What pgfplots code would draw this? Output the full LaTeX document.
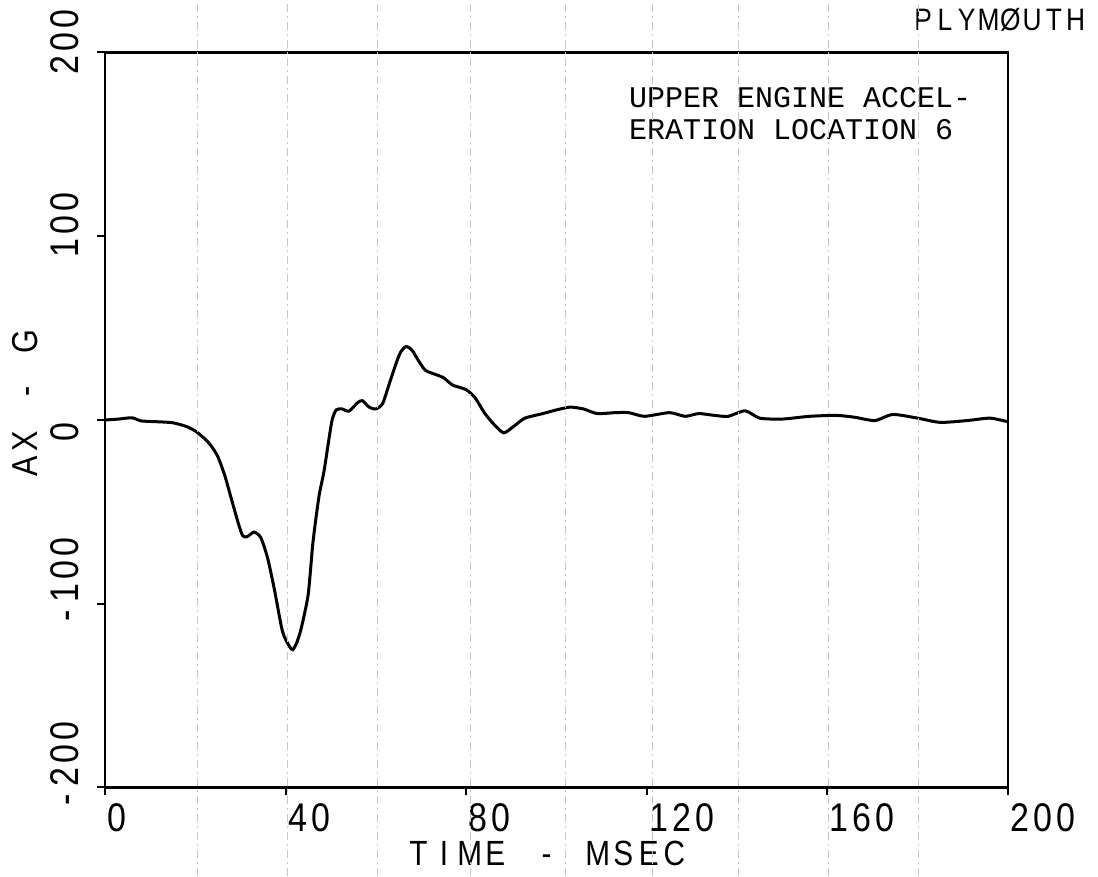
\documentclass[border=0pt]{standalone}
\usepackage{pgfplots}
\pgfplotsset{compat=1.18}
\usepackage{fontspec}
\setmainfont{Liberation Sans}
\newfontfamily\plotfont[FakeStretch=0.85]{Liberation Sans}
\newfontfamily\typewriter{Liberation Mono}
% plotter lettering: every character on the same pitch
\newlength\pltw
\def\plt#1#2{\setlength\pltw{#1}\pltloop#2\relax}
\def\pltloop#1{\ifx#1\relax\else\makebox[\pltw]{#1}\expandafter\pltloop\fi}

\begin{document}
\begin{tikzpicture}
\begin{axis}[
    scale only axis,
    width=451.5pt, height=367.5pt,
    xmin=0, xmax=200, ymin=-200, ymax=200,
    clip=false,
    axis line style={line width=1.2pt},
    tick pos=left, tick align=outside,
    major tick length=4pt,
    tick style={line width=1pt, black},
    xtick={0,40,80,120,160,200},
    xticklabels={\plt{11.5pt}{0},\plt{11.5pt}{40},\plt{11.5pt}{80},\plt{11.5pt}{120},\plt{11.5pt}{160},\plt{11.5pt}{200}},
    ytick={-200,-100,0,100,200},
    yticklabels={\plt{11.5pt}{-200},\plt{11.5pt}{-100},\plt{11.5pt}{0},\plt{11.5pt}{100},\plt{11.5pt}{200}},
    xticklabel style={font=\plotfont\fontsize{20}{20}\selectfont, anchor=north west, inner sep=0pt, yshift=-4pt},
    yticklabel style={font=\plotfont\fontsize{20}{20}\selectfont, rotate=90, anchor=south west, inner sep=0pt, xshift=-12pt, yshift=9pt},
    xlabel={\plt{12.8pt}{TIME~-~MSEC}},
    xlabel style={font=\plotfont\fontsize{17.5}{18}\selectfont, at={(axis description cs:0.5,0)}, anchor=base, inner sep=0pt, yshift=-39pt, xshift=-5pt},
    ylabel={\plt{12.5pt}{AX~-~G}},
    ylabel style={font=\plotfont\fontsize{18}{18}\selectfont, at={(axis description cs:0,0.522)}, anchor=base, inner sep=0pt, yshift=33.5pt},
]
\addplot[black, line width=1.5pt, smooth, tension=0.4] coordinates {
(0,0) (3,0.5) (6,1.2) (8,-0.5) (12,-1) (15,-1.5) (18,-3.5) (20,-6) (22,-10)
(23.5,-14) (25,-20) (26.5,-30) (28,-43) (29.5,-56) (30.5,-63) (31.5,-63.5)
(33,-61) (34.5,-64) (36,-75) (37.5,-92) (39.3,-115) (40.8,-123) (41.6,-125)
(42.5,-121) (43.5,-113) (45,-95) (46,-68) (46.8,-52) (47.5,-40) (48.5,-28)
(49.5,-12) (50.3,0) (51.2,5.5) (52.5,6) (54,4.8) (56,9.5) (57,10.5) (58.5,7)
(60,6) (61.5,9) (63,20) (64.5,31) (65.5,37) (66.7,40) (68,38) (69.5,32)
(71,27) (73.5,24.5) (75,23) (77,19) (80,16.5) (82,12) (84,4) (86,-2)
(88.3,-7) (90.5,-3.5) (93,1) (97,3.5) (100,5.5) (103,7) (106,6) (109,3.5)
(113,4) (116,4) (119.5,2) (125,4) (128.5,2) (131.5,3.5) (135,2.5) (138,2)
(141.8,5) (145,1) (150,0.5) (156,2) (162,2.5) (166,1.5) (170.5,-0.3)
(174.5,3) (180,1) (185,-1.3) (191,-0.3) (196,1) (200,-1)
};
\node[anchor=north west, inner sep=0pt, align=left,
      font=\typewriter\fontsize{15}{16}\selectfont] at (axis cs:116,181)
      {UPPER ENGINE ACCEL-\\ERATION LOCATION 6};
\node[anchor=base west, inner sep=0pt, font=\plotfont\fontsize{15.5}{16}\selectfont]
      at (axis cs:178.7,212) {\plt{10.9pt}{PLYMØUTH}};
\end{axis}
% faint ruling of the scanned sheet
\foreach \px in {197,287,377,470,565,652,738,828,918}
  \draw[black!22, line width=0.5pt, dash pattern=on 4pt off 2pt on 1pt off 2pt]
    ([xshift={(\px-105)*0.5pt}, yshift=-44.5pt]current axis.south west) -- ++(0,438pt);
\path[use as bounding box] ([xshift=-52.5pt, yshift=-44.5pt]current axis.south west)
  rectangle ([xshift=45pt, yshift=26pt]current axis.north east);
\end{tikzpicture}
\end{document}
